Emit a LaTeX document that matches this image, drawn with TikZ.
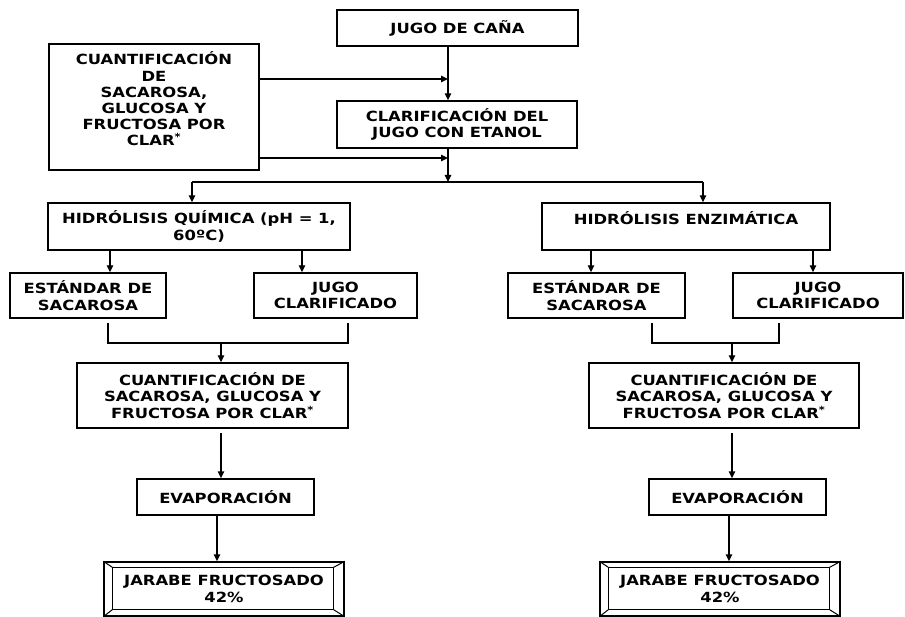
\documentclass[tikz,border=0pt]{standalone}
\usepackage{fontspec}
\setmainfont{DejaVu Sans}[FakeStretch=1.17]
\usetikzlibrary{arrows.meta}
\begin{document}
\begin{tikzpicture}[x=1pt,y=-1pt,
  box/.style={draw,line width=1.4pt,align=center,inner sep=0pt,font=\fontsize{14}{16.7}\selectfont\bfseries},
  arr/.style={line width=1.4pt,-{Triangle[length=7pt,width=6.5pt]}},
  ln/.style={line width=1.4pt}]
\useasboundingbox (0,0) rectangle (905,617);
% nodes
\node[box,minimum width=241pt,minimum height=36pt] (jugo) at (457.5,28) {JUGO DE CAÑA};
\node[box,minimum width=210pt,minimum height=126pt] (cuant0) at (154,107)
  {\begin{minipage}[c][110pt][t]{200pt}\centering\fontsize{14}{16.2}\selectfont\bfseries
   CUANTIFICACIÓN\\DE\\SACAROSA,\\GLUCOSA Y\\FRUCTOSA POR\\CLAR\textsuperscript{*}\end{minipage}};
\node[box,minimum width=240pt,minimum height=47pt] (clar) at (457,124.5) {CLARIFICACIÓN DEL\\JUGO CON ETANOL};
\node[box,minimum width=302pt,minimum height=47pt] (hq) at (199,226.5) {HIDRÓLISIS QUÍMICA (pH = 1,\\60ºC)};
\node[box,minimum width=288pt,minimum height=47pt] (he) at (686,226.5) {HIDRÓLISIS ENZIMÁTICA\\~};
\node[box,minimum width=156pt,minimum height=45pt] (es1) at (88,295.5) {ESTÁNDAR DE\\SACAROSA};
\node[box,minimum width=163pt,minimum height=45pt] (jc1) at (335.5,295.5) {JUGO\\CLARIFICADO};
\node[box,minimum width=177pt,minimum height=45pt] (es2) at (596.5,295.5) {ESTÁNDAR DE\\SACAROSA};
\node[box,minimum width=170pt,minimum height=45pt] (jc2) at (818,295.5) {JUGO\\CLARIFICADO};
\node[box,minimum width=271pt,minimum height=65pt] (cq1) at (212.5,395.5) {CUANTIFICACIÓN DE\\SACAROSA, GLUCOSA Y\\FRUCTOSA POR CLAR\textsuperscript{*}};
\node[box,minimum width=270pt,minimum height=65pt] (cq2) at (724,395.5) {CUANTIFICACIÓN DE\\SACAROSA, GLUCOSA Y\\FRUCTOSA POR CLAR\textsuperscript{*}};
\node[box,minimum width=177pt,minimum height=36pt] (ev1) at (225.5,497) {EVAPORACIÓN};
\node[box,minimum width=177pt,minimum height=36pt] (ev2) at (737.5,497) {EVAPORACIÓN};
\node[box,minimum width=240pt,minimum height=54pt] (ja1) at (224,589) {JARABE FRUCTOSADO\\42\%};
\node[box,minimum width=240pt,minimum height=54pt] (ja2) at (720,589) {JARABE FRUCTOSADO\\42\%};
% bevel frames
\foreach \n in {ja1,ja2}{
  \draw[line width=1.2pt] ([shift={(9,6)}]\n.north west) rectangle ([shift={(-11,-7)}]\n.south east);
  \draw[line width=1pt] (\n.north west) -- ([shift={(9,6)}]\n.north west);
  \draw[line width=1pt] (\n.south west) -- ([shift={(9,-7)}]\n.south west);
  \draw[line width=1pt] (\n.north east) -- ([shift={(-11,6)}]\n.north east);
  \draw[line width=1pt] (\n.south east) -- ([shift={(-11,-7)}]\n.south east);
}
% coordinates
\coordinate (xa) at (448,0);
\coordinate (ya) at (0,79);
\coordinate (yb) at (0,158);
\coordinate (ys) at (0,182);
\coordinate (xl) at (192,0);
\coordinate (xr) at (703,0);
% top connectors
\draw[arr] (xa |- jugo.south) -- (xa |- clar.north);
\draw[arr] (cuant0.east |- ya) -- (xa |- ya);
\draw[arr] (cuant0.east |- yb) -- (xa |- yb);
\draw[arr] (xa |- clar.south) -- (xa |- ys);
\draw[ln] (xl |- ys) -- (xr |- ys);
\draw[arr] (xl |- ys) -- (xl |- hq.north);
\draw[arr] (xr |- ys) -- (xr |- he.north);
% left branch
\coordinate (l1) at (110,0);
\coordinate (l2) at (302,0);
\draw[arr] (l1 |- hq.south) -- (l1 |- es1.north);
\draw[arr] (l2 |- hq.south) -- (l2 |- jc1.north);
\coordinate (b1a) at (108,323);
\coordinate (b1b) at (108,343);
\coordinate (b1c) at (348,343);
\coordinate (b1d) at (348,323);
\draw[ln] (b1a) -- (b1b) -- (b1c) -- (b1d);
\coordinate (b1m) at (221,343);
\draw[arr] (b1m) -- (b1m |- cq1.north);
\coordinate (c1) at (221,433);
\draw[arr] (c1) -- (c1 |- ev1.north);
\coordinate (e1) at (217,0);
\draw[arr] (e1 |- ev1.south) -- (e1 |- ja1.north);
% right branch
\coordinate (r1) at (591,0);
\coordinate (r2) at (813,0);
\draw[arr] (r1 |- he.south) -- (r1 |- es2.north);
\draw[arr] (r2 |- he.south) -- (r2 |- jc2.north);
\coordinate (b2a) at (652,323);
\coordinate (b2b) at (652,343);
\coordinate (b2c) at (779,343);
\coordinate (b2d) at (779,323);
\draw[ln] (b2a) -- (b2b) -- (b2c) -- (b2d);
\coordinate (b2m) at (732,343);
\draw[arr] (b2m) -- (b2m |- cq2.north);
\coordinate (c2) at (732,433);
\draw[arr] (c2) -- (c2 |- ev2.north);
\coordinate (e2) at (729,0);
\draw[arr] (e2 |- ev2.south) -- (e2 |- ja2.north);
\end{tikzpicture}
\end{document}
